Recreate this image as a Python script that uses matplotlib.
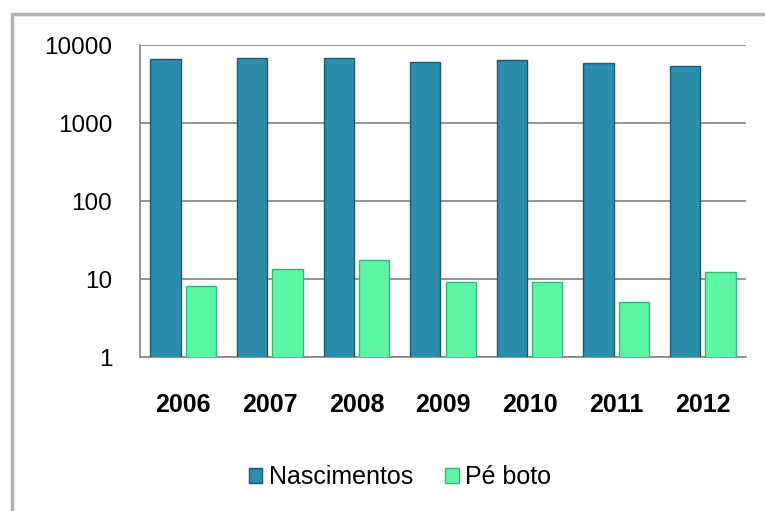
import numpy as np
import matplotlib
matplotlib.use('Agg')
import matplotlib.pyplot as plt
from matplotlib.patches import Rectangle

anos = ['2006', '2007', '2008', '2009', '2010', '2011', '2012']
nascimentos = [6560, 6870, 6870, 6110, 6370, 5880, 5430]
pe_boto = [8.2, 13.4, 17.5, 9.2, 9.2, 5.1, 12.4]

fig = plt.figure(figsize=(7.65, 5.11), dpi=100)
fig.patch.set_facecolor('white')

# moldura cinza do grafico
fig.patches.append(Rectangle((12 / 765, -0.1), 1.2, 1 - 14 / 511 + 0.1,
                             transform=fig.transFigure, fill=False,
                             edgecolor='#b3b3b3', linewidth=2.5))

ax = fig.add_axes([140 / 765, 1 - 357 / 511, (746 - 140) / 765, (357 - 45) / 511])

x = np.arange(len(anos))
largura = 0.35
desloc = 0.205
ax.bar(x - desloc, nascimentos, largura, color='#2c8cab', edgecolor='#1d5a6e',
       linewidth=1, label='Nascimentos', zorder=3)
ax.bar(x + desloc, pe_boto, largura, color='#5cf5a6', edgecolor='#3bb57a',
       linewidth=1, label='Pé boto', zorder=3)

ax.set_yscale('log')
ax.set_ylim(1, 10000)
ax.set_xlim(-0.5, len(anos) - 0.5)
ax.set_yticks([1, 10, 100, 1000, 10000])
ax.set_yticklabels(['1', '10', '100', '1000', '10000'], fontsize=17.5,
                   family='Liberation Sans')
ax.minorticks_off()
ax.yaxis.set_tick_params(length=0, pad=20)
ax.set_xticks(x)
ax.set_xticklabels(anos, fontsize=18, fontweight='bold', family='Liberation Sans')
ax.xaxis.set_tick_params(length=0, pad=26)
ax.grid(axis='y', color='#8c8c8c', linewidth=1.3, zorder=0)

for lado in ['top', 'right']:
    ax.spines[lado].set_visible(False)
ax.spines['left'].set_color('#8c8c8c')
ax.spines['bottom'].set_color('#8c8c8c')
ax.spines['left'].set_linewidth(1.3)
ax.spines['bottom'].set_linewidth(1.3)

fig.legend(loc='center', bbox_to_anchor=(400 / 765, 1 - 477 / 511), ncol=2,
           frameon=False, handlelength=0.55, handleheight=0.55,
           handletextpad=0.25, columnspacing=1.3,
           prop={'family': 'Liberation Sans', 'size': 18})

fig.savefig('out.png', dpi=100)
